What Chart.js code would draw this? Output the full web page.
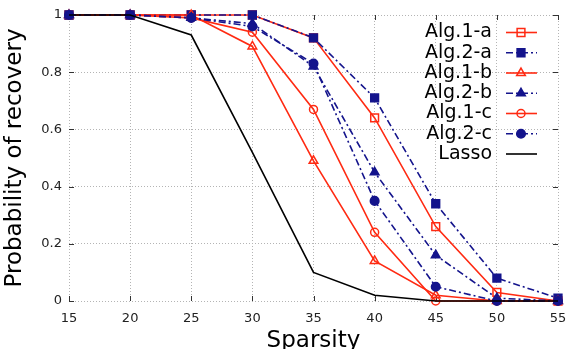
<!DOCTYPE html>
<html>
<head>
<meta charset="utf-8">
<script src="https://cdn.jsdelivr.net/npm/chart.js@4/dist/chart.umd.min.js"></script>
<style>
  html, body { margin: 0; padding: 0; background: #fff; }
  #wrap { width: 581px; height: 349px; }
</style>
</head>
<body>
<div id="wrap"><canvas id="recoveryChart"></canvas></div>
<script>
// sparsity levels on the x axis
const sparsity = ['15', '20', '25', '30', '35', '40', '45', '50', '55'];

// probability of recovery
const alg1a = [1, 1, 1, 1, 0.92, 0.64, 0.26, 0.03, 0];
const alg2a = [1, 1, 1, 1, 0.92, 0.71, 0.34, 0.08, 0.01];
const alg1b = [1, 1, 1, 0.89, 0.49, 0.14, 0.02, 0, 0];
const alg2b = [1, 1, 0.99, 0.97, 0.82, 0.45, 0.16, 0.01, 0];
const alg1c = [1, 1, 0.99, 0.94, 0.67, 0.24, 0, 0, 0];
const alg2c = [1, 1, 0.99, 0.96, 0.83, 0.35, 0.05, 0, 0];
const lasso = [1, 1, 0.93, 0.52, 0.1, 0.02, 0, 0, 0];

const yTicks = [0, 0.2, 0.4, 0.6, 0.8, 1];
const yTickLabels = ['0', '0.2', '0.4', '0.6', '0.8', '1'];

const red = '#ff2a12';
const navy = '#14148c';
const dashDot = [7, 3, 2, 3];
const font = '"DejaVu Sans", sans-serif';

function series(label, data, color, dash, style, filled, radius, order) {
  return {
    label: label,
    data: data,
    borderColor: color,
    borderWidth: 1.6,
    borderDash: dash,
    pointStyle: style,
    pointRadius: radius,
    pointHoverRadius: radius,
    pointBorderColor: color,
    pointBackgroundColor: filled ? color : 'rgba(0,0,0,0)',
    pointBorderWidth: 1.5,
    tension: 0,
    fill: false,
    clip: false,
    order: order
  };
}

const datasets = [
  series('Alg.1-a', alg1a, red, [], 'rect', false, 5.5, 7),
  series('Alg.2-a', alg2a, navy, dashDot, 'rect', true, 5.5, 6),
  series('Alg.1-b', alg1b, red, [], 'triangle', false, 5, 5),
  series('Alg.2-b', alg2b, navy, dashDot, 'triangle', true, 5, 4),
  series('Alg.1-c', alg1c, red, [], 'circle', false, 4, 3),
  series('Alg.2-c', alg2c, navy, dashDot, 'circle', true, 4.3, 2),
  series('Lasso', lasso, '#000', [], 'circle', false, 0, 1)
];

// small inward tick marks on all four sides, gnuplot style
const innerTicks = {
  id: 'innerTicks',
  beforeDatasetsDraw(chart) {
    const {ctx, chartArea: a, scales: {x, y}} = chart;
    const len = 5;
    ctx.save();
    ctx.strokeStyle = '#333';
    ctx.lineWidth = 1;
    ctx.beginPath();
    x.ticks.forEach((t, i) => {
      const px = Math.round(x.getPixelForTick(i)) + 0.5;
      ctx.moveTo(px, a.bottom); ctx.lineTo(px, a.bottom - len);
      ctx.moveTo(px, a.top); ctx.lineTo(px, a.top + len);
    });
    y.ticks.forEach(t => {
      const py = Math.round(y.getPixelForValue(t.value)) + 0.5;
      ctx.moveTo(a.left, py); ctx.lineTo(a.left + len, py);
      ctx.moveTo(a.right, py); ctx.lineTo(a.right - len, py);
    });
    ctx.stroke();
    ctx.restore();
  }
};

// key at the upper right: label, then line sample with marker
const rightLegend = {
  id: 'rightLegend',
  afterDraw(chart) {
    const ctx = chart.ctx;
    const textRight = 492, lineStart = 506, lineEnd = 537, markX = 521;
    let y = 32.5;
    ctx.save();
    ctx.font = '19px ' + font;
    ctx.textAlign = 'right';
    ctx.textBaseline = 'middle';
    chart.data.datasets.forEach(ds => {
      ctx.fillStyle = '#000';
      ctx.fillText(ds.label, textRight, y);
      ctx.strokeStyle = ds.borderColor;
      ctx.lineWidth = ds.borderWidth;
      ctx.setLineDash(ds.borderDash);
      ctx.beginPath();
      ctx.moveTo(lineStart, y);
      ctx.lineTo(lineEnd, y);
      ctx.stroke();
      ctx.setLineDash([]);
      if (ds.pointRadius > 0) {
        ctx.fillStyle = ds.pointBackgroundColor;
        ctx.strokeStyle = ds.pointBorderColor;
        ctx.lineWidth = ds.pointBorderWidth;
        Chart.helpers.drawPoint(ctx, {
          pointStyle: ds.pointStyle,
          radius: ds.pointRadius,
          borderWidth: ds.pointBorderWidth,
          rotation: 0
        }, markX, y);
      }
      y += 20.25;
    });
    ctx.restore();
  }
};

const ctx = document.getElementById('recoveryChart').getContext('2d');
new Chart(ctx, {
  type: 'line',
  data: { labels: sparsity, datasets: datasets },
  plugins: [innerTicks, rightLegend],
  options: {
    responsive: true,
    maintainAspectRatio: false,
    animation: false,
    layout: { padding: { left: 0, right: 23, top: 15, bottom: 0 } },
    plugins: {
      legend: { display: false },
      tooltip: { enabled: false }
    },
    scales: {
      x: {
        type: 'category',
        offset: false,
        grid: { color: '#b4b4b4', lineWidth: 1, drawTicks: false },
        border: { display: false, dash: [1, 2] },
        ticks: { padding: 10, color: '#222', font: { family: font, size: 13 }, maxRotation: 0 },
        title: {
          display: true, text: 'Sparsity', color: '#000',
          font: { family: font, size: 23, lineHeight: 0.7 }, padding: 0
        },
        afterFit(scale) { scale.height = 48; }
      },
      y: {
        min: 0, max: 1,
        afterBuildTicks(scale) { scale.ticks = yTicks.map(v => ({ value: v })); },
        grid: { color: '#b4b4b4', lineWidth: 1, drawTicks: false },
        border: { display: false, dash: [1, 2] },
        ticks: {
          padding: 7, color: '#222', font: { family: font, size: 13 },
          callback: (v) => yTickLabels[yTicks.indexOf(v)]
        },
        title: {
          display: true, text: 'Probability of recovery', color: '#000',
          font: { family: font, size: 23, lineHeight: 1.2 }, padding: { top: 1, bottom: 0 }
        },
        afterFit(scale) { scale.width = 69; }
      }
    }
  }
});
</script>
</body>
</html>
